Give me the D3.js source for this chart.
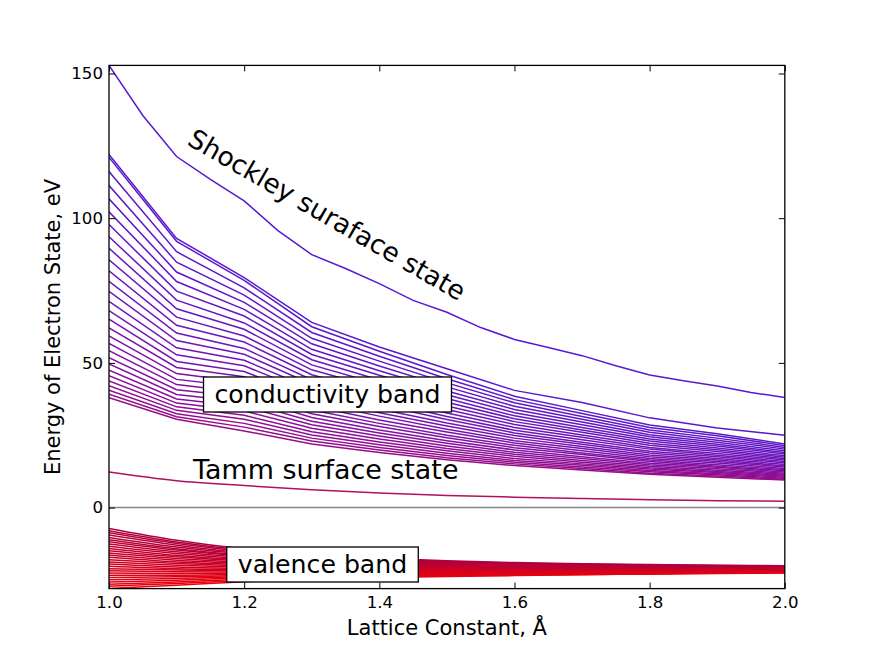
<!DOCTYPE html>
<html>
<head>
<meta charset="utf-8">
<script src="https://cdn.jsdelivr.net/npm/d3@7"></script>
<style>
  body { margin: 0; background: #fff; }
  svg { display: block; font-family: "DejaVu Sans", sans-serif; }
</style>
</head>
<body>
<div id="chart"></div>
<script>
// lattice constant grids (Angstrom)
const xFine = [1.0, 1.05, 1.1, 1.15, 1.2, 1.25, 1.3, 1.35, 1.4, 1.45, 1.5,
  1.55, 1.6, 1.65, 1.7, 1.75, 1.8, 1.85, 1.9, 1.95, 2.0];
const xCoarse = [1.0, 1.1, 1.2, 1.3, 1.4, 1.5, 1.6, 1.7, 1.8, 1.9, 2.0];

// surface states, eV
const shockley = [152.8, 135.5, 121.3, 113.4, 106.0, 95.7, 87.4, 82.6, 77.4, 71.6, 67.5,
  62.2, 58.1, 55.3, 52.5, 49.0, 45.8, 43.8, 42.0, 39.8, 38.0];
const upperState = [122.0, 93.0, 79.5, 64.0, 55.5, 48.0, 40.5, 36.3, 31.0, 27.5, 25.0];
const tamm = [12.3, 9.3, 7.6, 6.2, 5.0, 4.2, 3.6, 3.1, 2.7, 2.4, 2.2];

// conductivity band levels, one column per lattice constant in xCoarse (bottom -> top)
const condColumns = [
  [38.0, 39.2, 40.6, 42.1, 43.8, 45.6, 47.5, 49.6, 51.8, 54.2, 56.7, 59.3, 62.1, 65.1, 68.1, 71.3, 74.7, 78.2, 81.8, 85.6, 89.6, 93.6, 97.8, 102.2, 106.7, 111.3, 116.1, 121.0],
  [30.5, 31.4, 32.4, 33.6, 34.8, 36.1, 37.5, 39.1, 40.7, 42.5, 44.3, 46.3, 48.4, 50.5, 52.8, 55.2, 57.7, 60.3, 63.0, 65.8, 68.7, 71.7, 74.8, 78.1, 81.4, 84.8, 88.4, 92.0],
  [26.5, 27.8, 29.1, 30.5, 31.9, 33.4, 34.9, 36.5, 38.2, 39.8, 41.6, 43.3, 45.2, 47.0, 49.0, 50.9, 53.0, 55.0, 57.2, 59.3, 61.6, 63.8, 66.2, 68.5, 70.9, 73.4, 75.9, 78.5],
  [22.0, 23.0, 24.0, 25.1, 26.2, 27.4, 28.6, 29.8, 31.1, 32.4, 33.7, 35.1, 36.5, 38.0, 39.5, 41.0, 42.6, 44.2, 45.9, 47.6, 49.3, 51.1, 52.9, 54.7, 56.6, 58.5, 60.5, 62.5],
  [19.0, 19.9, 20.8, 21.7, 22.7, 23.7, 24.7, 25.8, 26.8, 28.0, 29.1, 30.3, 31.6, 32.8, 34.1, 35.5, 36.8, 38.2, 39.6, 41.1, 42.6, 44.1, 45.7, 47.3, 48.9, 50.6, 52.3, 54.0],
  [16.5, 17.2, 18.0, 18.8, 19.6, 20.4, 21.3, 22.2, 23.1, 24.1, 25.0, 26.1, 27.1, 28.2, 29.2, 30.4, 31.5, 32.7, 33.9, 35.1, 36.4, 37.7, 39.0, 40.3, 41.7, 43.1, 44.5, 46.0],
  [14.5, 15.1, 15.7, 16.3, 17.0, 17.7, 18.4, 19.1, 19.9, 20.7, 21.5, 22.3, 23.1, 24.0, 24.9, 25.8, 26.7, 27.7, 28.7, 29.7, 30.7, 31.7, 32.8, 33.9, 35.0, 36.2, 37.3, 38.5],
  [13.0, 13.5, 14.0, 14.6, 15.1, 15.7, 16.3, 17.0, 17.6, 18.3, 18.9, 19.6, 20.4, 21.1, 21.9, 22.6, 23.4, 24.3, 25.1, 26.0, 26.8, 27.7, 28.6, 29.6, 30.5, 31.5, 32.5, 33.5],
  [11.5, 11.9, 12.4, 12.8, 13.3, 13.8, 14.3, 14.8, 15.3, 15.9, 16.4, 17.0, 17.6, 18.2, 18.9, 19.5, 20.2, 20.8, 21.5, 22.2, 23.0, 23.7, 24.5, 25.2, 26.0, 26.8, 27.7, 28.5],
  [10.5, 10.9, 11.3, 11.7, 12.1, 12.5, 12.9, 13.4, 13.9, 14.3, 14.8, 15.4, 15.9, 16.4, 17.0, 17.6, 18.1, 18.7, 19.4, 20.0, 20.6, 21.3, 21.9, 22.6, 23.3, 24.0, 24.8, 25.5],
  [9.5, 9.8, 10.1, 10.5, 10.8, 11.2, 11.5, 11.9, 12.3, 12.7, 13.1, 13.5, 14.0, 14.4, 14.9, 15.4, 15.9, 16.4, 16.9, 17.4, 17.9, 18.5, 19.0, 19.6, 20.2, 20.8, 21.4, 22.0]
];

// valence band levels, same layout
const valenceColumns = [
  [-28.0, -27.2, -26.5, -25.7, -24.9, -24.2, -23.4, -22.6, -21.8, -21.1, -20.3, -19.5, -18.8, -18.0, -17.2, -16.4, -15.7, -14.9, -14.1, -13.4, -12.6, -11.8, -11.1, -10.3, -9.5, -8.7, -8.0, -7.2],
  [-26.8, -26.2, -25.7, -25.1, -24.5, -23.9, -23.4, -22.8, -22.2, -21.6, -21.1, -20.5, -19.9, -19.3, -18.8, -18.2, -17.6, -17.0, -16.5, -15.9, -15.3, -14.7, -14.2, -13.6, -13.0, -12.4, -11.9, -11.3],
  [-25.6, -25.2, -24.8, -24.3, -23.9, -23.5, -23.1, -22.7, -22.3, -21.8, -21.4, -21.0, -20.6, -20.2, -19.7, -19.3, -18.9, -18.5, -18.1, -17.7, -17.2, -16.8, -16.4, -16.0, -15.6, -15.1, -14.7, -14.3],
  [-24.8, -24.5, -24.2, -23.8, -23.5, -23.2, -22.9, -22.6, -22.3, -21.9, -21.6, -21.3, -21.0, -20.7, -20.3, -20.0, -19.7, -19.4, -19.1, -18.8, -18.4, -18.1, -17.8, -17.5, -17.2, -16.8, -16.5, -16.2],
  [-24.2, -24.0, -23.7, -23.5, -23.2, -23.0, -22.7, -22.5, -22.2, -22.0, -21.7, -21.5, -21.2, -21.0, -20.7, -20.5, -20.2, -20.0, -19.7, -19.5, -19.2, -19.0, -18.7, -18.5, -18.2, -18.0, -17.8, -17.5],
  [-23.8, -23.6, -23.4, -23.2, -23.0, -22.8, -22.6, -22.4, -22.2, -22.0, -21.8, -21.6, -21.4, -21.2, -21.0, -20.8, -20.6, -20.4, -20.2, -20.0, -19.8, -19.6, -19.4, -19.2, -19.0, -18.8, -18.6, -18.4],
  [-23.5, -23.3, -23.2, -23.0, -22.8, -22.7, -22.5, -22.3, -22.2, -22.0, -21.8, -21.7, -21.5, -21.3, -21.2, -21.0, -20.8, -20.7, -20.5, -20.3, -20.2, -20.0, -19.8, -19.7, -19.5, -19.3, -19.2, -19.0],
  [-23.2, -23.1, -22.9, -22.8, -22.6, -22.5, -22.4, -22.2, -22.1, -21.9, -21.8, -21.7, -21.5, -21.4, -21.2, -21.1, -21.0, -20.8, -20.7, -20.5, -20.4, -20.3, -20.1, -20.0, -19.8, -19.7, -19.5, -19.4],
  [-23.0, -22.9, -22.8, -22.6, -22.5, -22.4, -22.3, -22.1, -22.0, -21.9, -21.8, -21.7, -21.5, -21.4, -21.3, -21.2, -21.0, -20.9, -20.8, -20.7, -20.6, -20.4, -20.3, -20.2, -20.1, -19.9, -19.8, -19.7],
  [-22.8, -22.7, -22.6, -22.5, -22.4, -22.3, -22.2, -22.0, -21.9, -21.8, -21.7, -21.6, -21.5, -21.4, -21.3, -21.2, -21.1, -21.0, -20.9, -20.8, -20.7, -20.5, -20.4, -20.3, -20.2, -20.1, -20.0, -19.9],
  [-22.6, -22.5, -22.4, -22.3, -22.2, -22.1, -22.0, -22.0, -21.9, -21.8, -21.7, -21.6, -21.5, -21.4, -21.3, -21.2, -21.1, -21.0, -20.9, -20.8, -20.8, -20.7, -20.6, -20.5, -20.4, -20.3, -20.2, -20.1]
];

const xTicks = [1.0, 1.2, 1.4, 1.6, 1.8, 2.0];
const yTicks = [0, 50, 100, 150];

const W = 872, H = 654;
const margin = { top: 65.4, right: 87.2, bottom: 65.4, left: 109 };
const width = W - margin.left - margin.right,
  height = H - margin.top - margin.bottom;

// turn the columns into one line per level
function toLines(columns, xs) {
  const n = columns[0].length;
  return d3.range(n).map((i) => xs.map((x, j) => ({ x: x, y: columns[j][i] })));
}
const valenceLines = toLines(valenceColumns, xCoarse);
const condLines = toLines(condColumns, xCoarse);
const pair = (xs, ys) => xs.map((x, i) => ({ x: x, y: ys[i] }));

// all states in energy order, each gets its own colour
const states = [];
valenceLines.forEach((l) => states.push({ pts: l, smooth: true }));
states.push({ pts: pair(xCoarse, tamm), smooth: true });
condLines.forEach((l) => states.push({ pts: l, smooth: false }));
states.push({ pts: pair(xCoarse, upperState), smooth: false });
states.push({ pts: pair(xFine, shockley), smooth: false });

const nv = valenceLines.length, nc = condLines.length;
const color = d3.scaleLinear()
  .domain([0, nv - 1, nv, nv + 1, nv + 1 + nc / 2, nv + nc, nv + nc + 1, nv + nc + 2])
  .range(["#e8000c", "#b00040", "#b0105e", "#980c88", "#7414b4", "#5c18cc", "#5a18d0", "#5818d4"]);

const allY = states.flatMap((s) => s.pts.map((p) => p.y));

const x = d3.scaleLinear().domain([1.0, 2.0]).range([0, width]);
const y = d3.scaleLinear().domain(d3.extent(allY)).range([height, 0]);

const svg = d3.select("#chart").append("svg")
  .attr("width", W)
  .attr("height", H);

svg.append("rect").attr("width", W).attr("height", H).attr("fill", "#fff");

const g = svg.append("g")
  .attr("transform", "translate(" + margin.left + "," + margin.top + ")");

g.append("clipPath").attr("id", "clip")
  .append("rect").attr("width", width).attr("height", height);

const plot = g.append("g").attr("clip-path", "url(#clip)");

// zero line
plot.append("line")
  .attr("x1", 0).attr("x2", width)
  .attr("y1", y(0)).attr("y2", y(0))
  .attr("stroke", "#888")
  .attr("stroke-width", 1.6);

const lineStraight = d3.line().x((d) => x(d.x)).y((d) => y(d.y));
const lineSmooth = d3.line().x((d) => x(d.x)).y((d) => y(d.y)).curve(d3.curveMonotoneX);

plot.selectAll("path.state")
  .data(states)
  .enter()
  .append("path")
  .attr("class", "state")
  .attr("d", (d) => (d.smooth ? lineSmooth(d.pts) : lineStraight(d.pts)))
  .attr("fill", "none")
  .attr("stroke", (d, i) => color(i))
  .attr("stroke-width", 1.5);

// axes, ticks pointing inwards on all four sides
const fmtX = d3.format(".1f");
g.append("g")
  .attr("class", "axis")
  .attr("transform", "translate(0," + height + ")")
  .call(d3.axisBottom(x).tickValues(xTicks).tickFormat(fmtX).tickSize(-6).tickPadding(8));
g.append("g")
  .attr("class", "axis")
  .call(d3.axisTop(x).tickValues(xTicks).tickFormat("").tickSize(-6));
g.append("g")
  .attr("class", "axis")
  .call(d3.axisLeft(y).tickValues(yTicks).tickFormat(d3.format("d")).tickSize(-6).tickPadding(6));
g.append("g")
  .attr("class", "axis")
  .attr("transform", "translate(" + width + ",0)")
  .call(d3.axisRight(y).tickValues(yTicks).tickFormat("").tickSize(-6));

g.selectAll(".axis .domain").remove();
g.selectAll(".axis line").attr("stroke", "#000").attr("stroke-width", 1);
g.selectAll(".axis text")
  .attr("fill", "#000")
  .style("font-size", "16.6px")
  .style("font-family", "DejaVu Sans, sans-serif");

g.append("rect")
  .attr("width", width)
  .attr("height", height)
  .attr("fill", "none")
  .attr("stroke", "#000")
  .attr("stroke-width", 1.3);

// axis labels
svg.append("text")
  .attr("x", margin.left + width / 2)
  .attr("y", 635)
  .attr("text-anchor", "middle")
  .style("font-size", "21px")
  .text("Lattice Constant, Å");

svg.append("text")
  .attr("transform", "translate(60," + (margin.top + height / 2) + ") rotate(-90)")
  .attr("text-anchor", "middle")
  .style("font-size", "21px")
  .text("Energy of Electron State, eV");

// annotations
svg.append("text")
  .attr("transform", "translate(186,144) rotate(30)")
  .style("font-size", "26.3px")
  .text("Shockley suraface state");

svg.append("text")
  .attr("x", 193)
  .attr("y", 479)
  .style("font-size", "26.9px")
  .text("Tamm surface state");

function boxedLabel(cx, cy, label) {
  const grp = svg.append("g");
  const rect = grp.append("rect");
  const t = grp.append("text")
    .attr("x", cx)
    .attr("y", cy)
    .attr("text-anchor", "middle")
    .style("font-size", "25.2px")
    .text(label);
  let bb = t.node().getBBox();
  t.attr("y", cy + (cy - (bb.y + bb.height / 2)));
  bb = t.node().getBBox();
  rect.attr("x", bb.x - 11)
    .attr("y", bb.y - 3)
    .attr("width", bb.width + 22)
    .attr("height", bb.height + 6)
    .attr("fill", "#fff")
    .attr("stroke", "#000")
    .attr("stroke-width", 1.3);
}
boxedLabel(327.5, 394.5, "conductivity band");
boxedLabel(322.5, 564.5, "valence band");
</script>
</body>
</html>
